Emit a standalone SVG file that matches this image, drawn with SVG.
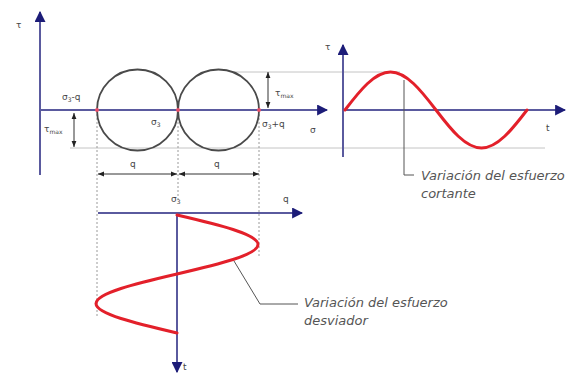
<svg xmlns="http://www.w3.org/2000/svg" width="581" height="375" viewBox="0 0 581 375">
<defs>
<style>
.ax{stroke:#5a5a9e;stroke-width:2;fill:none}
.thin{stroke:#c4c4c4;stroke-width:1;fill:none}
.dot{stroke:#9a9a9a;stroke-width:1;stroke-dasharray:2 2;fill:none}
.dim{stroke:#333;stroke-width:1;fill:none}
.circ{stroke:#4a4a4a;stroke-width:1.8;fill:none}
.red{stroke:#e3202a;stroke-width:3;fill:none;stroke-linecap:round}
.lead{stroke:#555;stroke-width:1;fill:none}
.lbl{font-family:"DejaVu Sans",sans-serif;font-size:9px;fill:#444}
.note{font-family:"DejaVu Sans",sans-serif;font-style:italic;font-size:13px;fill:#555}
</style>
<marker id="ah" viewBox="0 0 10 10" refX="9" refY="5" markerWidth="5.5" markerHeight="5.5" orient="auto" markerUnits="strokeWidth">
<path d="M0,0 L10,5 L0,10 Z" fill="#1c1c78"/>
</marker>
<marker id="da" viewBox="0 0 10 10" refX="10" refY="5" markerWidth="6" markerHeight="6" orient="auto-start-reverse" markerUnits="userSpaceOnUse">
<path d="M0,1 L10,5 L0,9 Z" fill="#222"/>
</marker>
</defs>

<g id="guides">
<line class="thin" x1="233" y1="72" x2="400" y2="72"/>
<line class="thin" x1="70" y1="148" x2="545" y2="148"/>
<line class="dot" x1="97" y1="110" x2="97" y2="318"/>
<line class="dot" x1="259" y1="110" x2="259" y2="258"/>
<line class="dot" x1="178" y1="110" x2="178" y2="200"/>
</g>

<g id="stress-plane">
<line class="ax" x1="40" y1="175" x2="40" y2="12" marker-end="url(#ah)"/>
<line class="ax" x1="40" y1="110" x2="327" y2="110" marker-end="url(#ah)"/>
<circle class="circ" cx="137.5" cy="110" r="40.5"/>
<circle class="circ" cx="218.5" cy="110" r="40.5"/>
<circle cx="97" cy="110" r="2" fill="#e8506a"/>
<circle cx="178" cy="110" r="2" fill="#e8506a"/>
<circle cx="259" cy="110" r="2" fill="#e8506a"/>
<text class="lbl" x="16" y="28">τ</text>
<text class="lbl" x="62" y="100">σ<tspan font-size="6" dy="2">3</tspan><tspan dy="-2">-q</tspan></text>
<text class="lbl" x="151" y="125">σ<tspan font-size="6" dy="2">3</tspan></text>
<text class="lbl" x="262" y="127">σ<tspan font-size="6" dy="2">3</tspan><tspan dy="-2">+q</tspan></text>
<text class="lbl" x="310" y="133">σ</text>
</g>

<g id="dimensions">
<line class="dim" x1="74" y1="113" x2="74" y2="147" marker-start="url(#da)" marker-end="url(#da)"/>
<text class="lbl" x="44" y="132">τ<tspan font-size="6" dy="2">max</tspan></text>
<line class="dim" x1="268" y1="72" x2="268" y2="108" marker-start="url(#da)" marker-end="url(#da)"/>
<text class="lbl" x="275" y="96">τ<tspan font-size="6" dy="2">max</tspan></text>
<line class="dim" x1="98" y1="174" x2="177" y2="174" marker-start="url(#da)" marker-end="url(#da)"/>
<line class="dim" x1="179" y1="174" x2="259" y2="174" marker-start="url(#da)" marker-end="url(#da)"/>
<text class="lbl" x="130" y="167">q</text>
<text class="lbl" x="214" y="167">q</text>
</g>

<g id="shear-plot">
<line class="ax" x1="343" y1="157" x2="343" y2="45" marker-end="url(#ah)"/>
<line class="ax" x1="343" y1="110" x2="565" y2="110" marker-end="url(#ah)"/>
<path class="red" d="M345,110 C359.8,90.6 374.5,72 390.5,72 C406.5,72 421.2,90.6 436,110 C450.8,129.4 465.5,148 481.5,148 C497.5,148 512.2,129.4 527,110"/>
<text class="lbl" x="325" y="50">τ</text>
<text class="lbl" x="546" y="131" font-size="11">t</text>
</g>

<g id="deviator-plot">
<line class="ax" x1="98" y1="213" x2="302" y2="213" marker-end="url(#ah)"/>
<line class="ax" x1="177" y1="213" x2="177" y2="372" marker-end="url(#ah)"/>
<path class="red" d="M177,215 C218.4,224.6 258,234.1 258,244.5 C258,254.9 218.4,264.4 177,274 C135.6,283.6 96,293.1 96,303.5 C96,313.9 135.6,323.4 177,333"/>
<text class="lbl" x="171" y="202">σ<tspan font-size="6" dy="2">3</tspan></text>
<text class="lbl" x="283" y="202">q</text>
<text class="lbl" x="183" y="370" font-size="11">t</text>
</g>

<g id="connectors">
<polyline class="lead" points="404,80 404,175 414,175"/>
<polyline class="lead" points="234,261 260,304 298,304"/>
</g>

<g id="notes">
<text class="note" x="421" y="180">Variación del esfuerzo</text>
<text class="note" x="421" y="198">cortante</text>
<text class="note" x="304" y="307">Variación del esfuerzo</text>
<text class="note" x="304" y="325">desviador</text>
</g>
</svg>
